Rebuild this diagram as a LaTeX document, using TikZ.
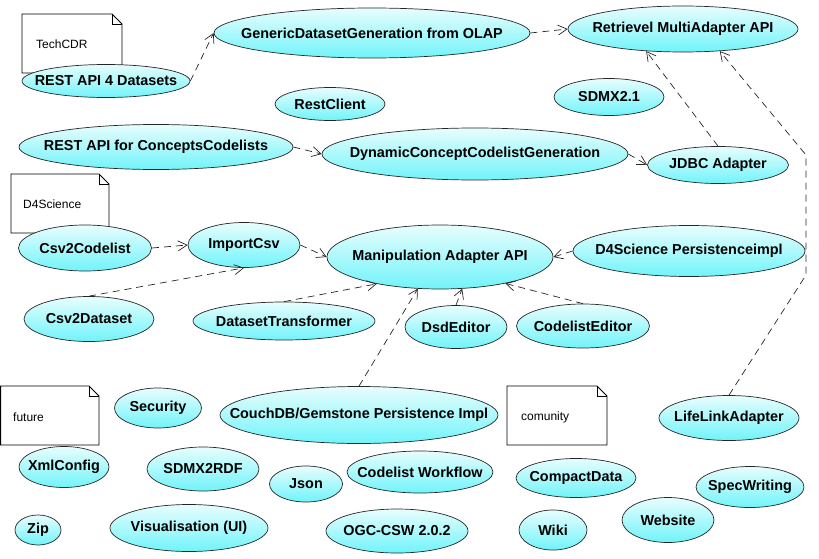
\documentclass[tikz,border=0pt]{standalone}
\usepackage{fontspec}
\setmainfont{Liberation Sans}
\usetikzlibrary{shapes.geometric,arrows.meta}
\definecolor{uctop}{RGB}{232,253,253}
\definecolor{ucbot}{RGB}{112,244,250}
\tikzset{
  uc/.style={ellipse, draw=black!85, line width=0.7pt, top color=uctop, bottom color=ucbot,
    inner sep=0pt, font=\bfseries\fontsize{14.4}{16}\selectfont},
  dep/.style={draw=black!85, line width=0.7pt, dash pattern=on 7pt off 5pt,
    -{Straight Barb[length=9pt,width=10pt,line width=0.7pt]}},
  notebox/.style={draw=black, line width=0.8pt, fill=white},
  notetext/.style={anchor=west, inner sep=0pt, font=\fontsize{12}{14}\selectfont}
}
\newcommand{\zw}[1]{\raisebox{-1.5pt}{\makebox[0pt][c]{#1}}}
\newcommand{\umlnote}[4]{%
  \draw[notebox] (#1,#2) -- ({#3-10},#2) -- (#3,{#2+10}) -- (#3,#4) -- (#1,#4) -- cycle;
  \draw[line width=0.8pt] ({#3-10},#2) -- ({#3-10},{#2+10}) -- (#3,{#2+10});
}
\begin{document}
\begin{tikzpicture}[x=1pt,y=-1pt]
\useasboundingbox (0,0) rectangle (819,559);
% notes
\umlnote{22}{14}{122}{73}
\node[notetext] (tTechCDR) at (36,44) {TechCDR};
\umlnote{11}{174}{109}{233}
\node[notetext] (tD4S) at (23,204) {D4Science};
\umlnote{0.6}{386}{99}{445}
\node[notetext] (tFuture) at (13,417) {future};
\umlnote{507}{386}{607}{445}
\node[notetext] (tCom) at (521,417) {comunity};
% use cases
\node[uc, minimum width=316, minimum height=50] (generic) at (372,33) {\zw{GenericDatasetGeneration from OLAP}};
\node[uc, minimum width=230, minimum height=46] (retr) at (683,29) {\zw{Retrievel MultiAdapter API}};
\node[uc, minimum width=168, minimum height=33] (rest4) at (106,81) {\zw{REST API 4 Datasets}};
\node[uc, minimum width=110, minimum height=33] (restclient) at (330,104) {\zw{RestClient}};
\node[uc, minimum width=110, minimum height=37] (sdmx) at (609,97) {\zw{SDMX2.1}};
\node[uc, minimum width=274, minimum height=45] (rapicc) at (156,147) {\zw{REST API for ConceptsCodelists}};
\node[uc, minimum width=306, minimum height=52] (dyn) at (475,154) {\zw{DynamicConceptCodelistGeneration}};
\node[uc, minimum width=141, minimum height=37] (jdbc) at (718,165) {\zw{JDBC Adapter}};
\node[uc, minimum width=133, minimum height=46] (csv2cl) at (85,248) {\zw{Csv2Codelist}};
\node[uc, minimum width=112, minimum height=45] (imp) at (244,245) {\zw{ImportCsv}};
\node[uc, minimum width=226, minimum height=64] (manip) at (440,257) {\zw{Manipulation Adapter API}};
\node[uc, minimum width=232, minimum height=51] (d4p) at (689,251) {\zw{D4Science Persistenceimpl}};
\node[uc, minimum width=130, minimum height=45] (csv2ds) at (89,319) {\zw{Csv2Dataset}};
\node[uc, minimum width=182, minimum height=38] (dstr) at (284,321) {\zw{DatasetTransformer}};
\node[uc, minimum width=102, minimum height=43] (dsd) at (456,327) {\zw{DsdEditor}};
\node[uc, minimum width=133, minimum height=44] (ce) at (583,326) {\zw{CodelistEditor}};
\node[uc, minimum width=87, minimum height=40] (sec) at (158,408) {\zw{Security}};
\node[uc, minimum width=278, minimum height=57] (couch) at (359,415) {\zw{CouchDB/Gemstone Persistence Impl}};
\node[uc, minimum width=140, minimum height=45] (life) at (729,418) {\zw{LifeLinkAdapter}};
\node[uc, minimum width=90, minimum height=41] (xml) at (64,467) {\zw{XmlConfig}};
\node[uc, minimum width=112, minimum height=44] (rdf) at (203,469) {\zw{SDMX2RDF}};
\node[uc, minimum width=73, minimum height=36] (json) at (306,484) {\zw{Json}};
\node[uc, minimum width=146, minimum height=42] (clw) at (420,472) {\zw{Codelist Workflow}};
\node[uc, minimum width=120, minimum height=39] (cd) at (576,478) {\zw{CompactData}};
\node[uc, minimum width=108, minimum height=41] (spec) at (750,487) {\zw{SpecWriting}};
\node[uc, minimum width=46, minimum height=30] (zip) at (38,530) {\zw{Zip}};
\node[uc, minimum width=158, minimum height=47] (vis) at (189,528) {\zw{Visualisation (UI)}};
\node[uc, minimum width=142, minimum height=44] (ogc) at (397,531) {\zw{OGC-CSW 2.0.2}};
\node[uc, minimum width=68, minimum height=40] (wiki) at (553,530) {\zw{Wiki}};
\node[uc, minimum width=92, minimum height=45] (web) at (668,520) {\zw{Website}};
% dependencies
\draw[dep] (rest4.east) -- (generic.west);
\draw[dep] (generic.east) -- (retr.west);
\draw[dep] (jdbc.north) -- (retr.211);
\draw[dep, rounded corners=2pt] (life.north) -- (806,275) -- (806,155) -- (retr.329);
\draw[dep] (rapicc.east) -- (dyn.west);
\draw[dep] (dyn.east) -- (jdbc.west);
\draw[dep] (csv2cl.east) -- (imp.west);
\draw[dep] (imp.east) -- (manip.west);
\draw[dep] (csv2ds.north) -- (imp.south);
\draw[dep] (dstr.north) -- (manip.203);
\draw[dep] (couch.north) -- (manip.235);
\draw[dep] (dsd.north) -- (manip.305);
\draw[dep] (ce.north) -- (manip.338);
\draw[dep] (d4p.west) -- (manip.east);
\end{tikzpicture}
\end{document}
